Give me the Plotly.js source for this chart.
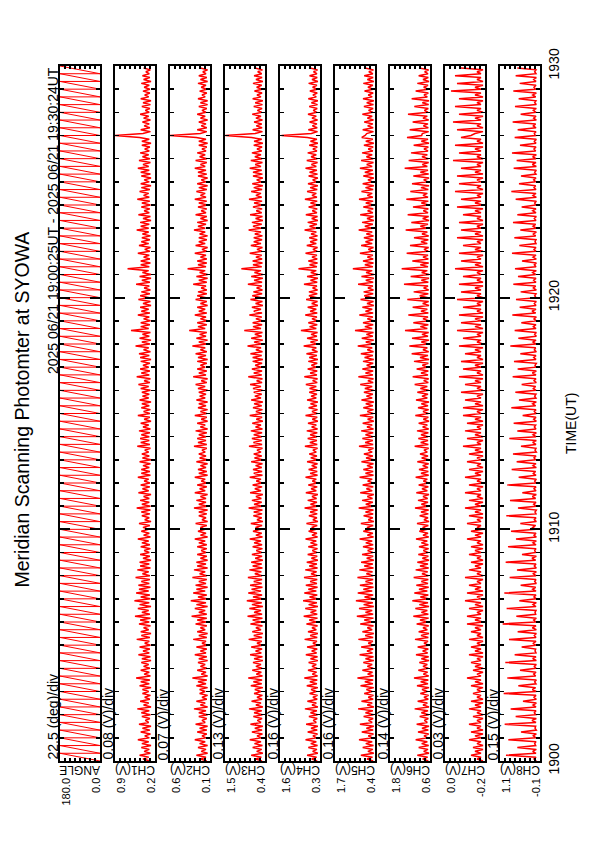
<!DOCTYPE html>
<html><head><meta charset="utf-8">
<script src="https://cdn.plot.ly/plotly-3.0.1.min.js"></script>
<style>html,body{margin:0;padding:0;background:#fff;}#chart{width:595px;height:842px;}</style>
</head><body><div id="chart"></div>
<script>
const chartTitle = "Meridian Scanning Photomter at SYOWA";
const periodLabel = "2025 06/21 19:00:25UT - 2025 06/21 19:30:24UT";
const timeAxisTitle = "TIME(UT)";
const channelNames = ["ANGLE","CH1(V)","CH2(V)","CH3(V)","CH4(V)","CH5(V)","CH6(V)","CH7(V)","CH8(V)"];
const rangeTop = [180.0, 0.9, 0.6, 1.5, 1.6, 1.7, 1.8, 0.0, 1.1];
const rangeBottom = [0.0, 0.2, 0.1, 0.4, 0.3, 0.4, 0.6, -0.2, -0.1];
const perDivLabels = ["22.5 (deg)/div","0.08 (V)/div","0.07 (V)/div","0.13 (V)/div","0.16 (V)/div","0.16 (V)/div","0.14 (V)/div","0.03 (V)/div","0.15 (V)/div"];
// time axis in seconds after 19:00:00 UT
const timeTickVals = [0, 600, 1200, 1800];
const timeTickText = ["1900","1910","1920","1930"];
const channelSampleSec = 5;

// scan angle: ramp 0 -> 180 deg, then fly back (turning points)
const angleTimeSec = [0,
20,20,40,40,60,60,80,80,100,100,120,120,140,140,160,160,180,180,200,200,
220,220,240,240,260,260,280,280,300,300,320,320,340,340,360,360,380,380,400,400,
420,420,440,440,460,460,480,480,500,500,520,520,540,540,560,560,580,580,600,600,
620,620,640,640,660,660,680,680,700,700,720,720,740,740,760,760,780,780,800,800,
820,820,840,840,860,860,880,880,900,900,920,920,940,940,960,960,980,980,1000,1000,
1020,1020,1040,1040,1060,1060,1080,1080,1100,1100,1120,1120,1140,1140,1160,1160,1180,1180,1200,1200,
1220,1220,1240,1240,1260,1260,1280,1280,1300,1300,1320,1320,1340,1340,1360,1360,1380,1380,1400,1400,
1420,1420,1440,1440,1460,1460,1480,1480,1500,1500,1520,1520,1540,1540,1560,1560,1580,1580,1600,1600,
1620,1620,1640,1640,1660,1660,1680,1680,1700,1700,1720,1720,1740,1740,1760,1760,1780,1780,
1800];
const angleDeg = [
0,180,0,180,0,180,0,180,0,180,0,180,0,180,0,180,0,180,0,180,
0,180,0,180,0,180,0,180,0,180,0,180,0,180,0,180,0,180,0,180,
0,180,0,180,0,180,0,180,0,180,0,180,0,180,0,180,0,180,0,180,
0,180,0,180,0,180,0,180,0,180,0,180,0,180,0,180,0,180,0,180,
0,180,0,180,0,180,0,180,0,180,0,180,0,180,0,180,0,180,0,180,
0,180,0,180,0,180,0,180,0,180,0,180,0,180,0,180,0,180,0,180,
0,180,0,180,0,180,0,180,0,180,0,180,0,180,0,180,0,180,0,180,
0,180,0,180,0,180,0,180,0,180,0,180,0,180,0,180,0,180,0,180,
0,180,0,180,0,180,0,180,0,180,0,180,0,180,0,180,0,180,0,180];

const ch1 = [
0.29,0.41,0.31,0.47,0.28,0.39,0.30,0.44,0.27,0.43,0.31,0.50,
0.30,0.38,0.28,0.45,0.29,0.42,0.27,0.48,0.31,0.37,0.29,0.43,
0.28,0.44,0.30,0.51,0.27,0.40,0.31,0.46,0.29,0.38,0.28,0.42,
0.31,0.42,0.27,0.47,0.30,0.45,0.29,0.53,0.28,0.39,0.30,0.45,
0.29,0.40,0.31,0.44,0.27,0.43,0.28,0.49,0.30,0.41,0.29,0.47,
0.28,0.38,0.30,0.52,0.29,0.44,0.27,0.45,0.31,0.40,0.28,0.48,
0.30,0.46,0.28,0.55,0.29,0.43,0.31,0.50,0.27,0.47,0.30,0.56,
0.28,0.45,0.29,0.53,0.31,0.48,0.28,0.49,0.30,0.44,0.29,0.54,
0.29,0.42,0.31,0.51,0.28,0.46,0.30,0.47,0.27,0.41,0.29,0.46,
0.30,0.39,0.28,0.45,0.29,0.43,0.31,0.50,0.28,0.40,0.30,0.44,
0.31,0.41,0.29,0.48,0.27,0.38,0.30,0.43,0.29,0.44,0.28,0.52,
0.28,0.43,0.30,0.46,0.30,0.40,0.27,0.49,0.31,0.42,0.29,0.45,
0.29,0.39,0.31,0.50,0.28,0.44,0.29,0.44,0.30,0.41,0.28,0.47,
0.27,0.42,0.30,0.43,0.31,0.38,0.28,0.51,0.29,0.45,0.30,0.46,
0.30,0.44,0.29,0.48,0.28,0.41,0.31,0.45,0.27,0.39,0.29,0.50,
0.29,0.40,0.28,0.44,0.30,0.43,0.27,0.47,0.31,0.42,0.30,0.43,
0.28,0.45,0.31,0.49,0.29,0.39,0.28,0.52,0.30,0.44,0.29,0.46,
0.31,0.41,0.29,0.45,0.27,0.46,0.30,0.48,0.28,0.40,0.31,0.54,
0.29,0.43,0.27,0.47,0.30,0.42,0.28,0.62,0.31,0.45,0.29,0.45,
0.28,0.40,0.30,0.50,0.29,0.44,0.31,0.46,0.27,0.41,0.28,0.49,
0.30,0.46,0.29,0.44,0.28,0.39,0.30,0.53,0.29,0.43,0.27,0.47,
0.27,0.42,0.31,0.68,0.30,0.45,0.28,0.45,0.29,0.40,0.30,0.50,
0.29,0.38,0.28,0.48,0.31,0.44,0.29,0.43,0.28,0.42,0.31,0.52,
0.31,0.45,0.30,0.46,0.27,0.41,0.28,0.49,0.30,0.39,0.29,0.44,
0.28,0.43,0.29,0.51,0.30,0.40,0.31,0.47,0.29,0.44,0.27,0.45,
0.30,0.39,0.27,0.44,0.28,0.45,0.30,0.50,0.31,0.41,0.28,0.48,
0.29,0.42,0.31,0.46,0.30,0.38,0.29,0.43,0.27,0.43,0.30,0.47,
0.90,0.41,0.28,0.45,0.29,0.39,0.30,0.42,0.28,0.40,0.31,0.46,
0.30,0.37,0.29,0.43,0.28,0.41,0.27,0.45,0.31,0.38,0.29,0.41,
0.29,0.39,0.30,0.44,0.27,0.40,0.29,0.42,0.30,0.36,0.28,0.40];

const ch2 = [
0.14,0.22,0.15,0.27,0.13,0.21,0.15,0.25,0.13,0.23,0.16,0.29,
0.15,0.20,0.14,0.26,0.14,0.23,0.13,0.28,0.16,0.20,0.14,0.24,
0.13,0.24,0.15,0.30,0.13,0.22,0.16,0.27,0.14,0.20,0.13,0.23,
0.16,0.23,0.13,0.27,0.15,0.25,0.14,0.32,0.13,0.21,0.15,0.26,
0.14,0.22,0.16,0.25,0.13,0.24,0.14,0.29,0.15,0.22,0.14,0.27,
0.13,0.20,0.15,0.31,0.14,0.24,0.13,0.26,0.16,0.22,0.14,0.28,
0.15,0.26,0.14,0.33,0.14,0.24,0.16,0.29,0.13,0.27,0.15,0.34,
0.14,0.25,0.14,0.31,0.16,0.27,0.13,0.28,0.15,0.24,0.14,0.32,
0.14,0.23,0.16,0.30,0.13,0.26,0.15,0.27,0.13,0.22,0.14,0.26,
0.15,0.21,0.14,0.26,0.14,0.24,0.16,0.29,0.13,0.22,0.15,0.25,
0.16,0.22,0.14,0.28,0.13,0.20,0.15,0.24,0.14,0.24,0.13,0.30,
0.13,0.24,0.15,0.27,0.15,0.22,0.13,0.29,0.16,0.23,0.14,0.26,
0.14,0.21,0.16,0.29,0.13,0.24,0.14,0.25,0.15,0.22,0.13,0.27,
0.13,0.23,0.15,0.24,0.16,0.20,0.14,0.30,0.14,0.25,0.15,0.26,
0.15,0.24,0.14,0.28,0.13,0.22,0.16,0.26,0.13,0.21,0.14,0.29,
0.14,0.22,0.13,0.25,0.15,0.24,0.13,0.27,0.16,0.23,0.15,0.24,
0.13,0.25,0.16,0.28,0.14,0.21,0.13,0.31,0.15,0.24,0.14,0.26,
0.16,0.22,0.14,0.26,0.13,0.25,0.15,0.28,0.14,0.22,0.16,0.32,
0.14,0.24,0.13,0.27,0.15,0.23,0.14,0.36,0.16,0.25,0.14,0.26,
0.13,0.22,0.15,0.29,0.14,0.24,0.16,0.26,0.13,0.22,0.14,0.28,
0.15,0.26,0.14,0.25,0.14,0.21,0.15,0.31,0.14,0.24,0.13,0.27,
0.13,0.23,0.16,0.38,0.15,0.25,0.14,0.26,0.14,0.22,0.15,0.29,
0.14,0.20,0.13,0.28,0.16,0.24,0.14,0.24,0.13,0.23,0.16,0.30,
0.16,0.25,0.15,0.26,0.13,0.22,0.14,0.28,0.15,0.21,0.14,0.25,
0.13,0.24,0.14,0.29,0.15,0.22,0.16,0.27,0.14,0.24,0.13,0.26,
0.15,0.21,0.13,0.25,0.14,0.25,0.15,0.29,0.16,0.22,0.14,0.28,
0.14,0.23,0.16,0.26,0.15,0.20,0.14,0.24,0.13,0.24,0.15,0.27,
0.60,0.22,0.14,0.26,0.14,0.21,0.15,0.24,0.13,0.22,0.16,0.26,
0.15,0.20,0.14,0.24,0.13,0.22,0.13,0.25,0.16,0.20,0.14,0.23,
0.14,0.21,0.15,0.25,0.13,0.22,0.14,0.24,0.15,0.19,0.13,0.22];

const ch3 = [
0.48,0.66,0.50,0.78,0.46,0.63,0.49,0.74,0.47,0.69,0.51,0.82,
0.50,0.62,0.47,0.76,0.48,0.68,0.46,0.80,0.51,0.61,0.48,0.72,
0.47,0.70,0.49,0.84,0.46,0.65,0.51,0.77,0.48,0.62,0.47,0.70,
0.51,0.68,0.46,0.79,0.49,0.72,0.48,0.86,0.47,0.64,0.50,0.75,
0.48,0.65,0.51,0.73,0.46,0.70,0.47,0.81,0.50,0.66,0.48,0.78,
0.47,0.62,0.49,0.85,0.48,0.71,0.46,0.75,0.51,0.65,0.47,0.80,
0.50,0.74,0.47,0.88,0.48,0.70,0.51,0.83,0.46,0.76,0.49,0.90,
0.47,0.73,0.48,0.86,0.51,0.77,0.47,0.81,0.49,0.71,0.48,0.87,
0.48,0.68,0.50,0.83,0.47,0.74,0.49,0.78,0.46,0.67,0.48,0.76,
0.49,0.64,0.47,0.74,0.48,0.70,0.51,0.82,0.47,0.65,0.49,0.73,
0.51,0.66,0.48,0.79,0.46,0.62,0.49,0.72,0.48,0.71,0.47,0.85,
0.47,0.70,0.49,0.76,0.50,0.65,0.46,0.81,0.51,0.68,0.48,0.74,
0.48,0.64,0.51,0.82,0.47,0.71,0.48,0.73,0.49,0.66,0.47,0.78,
0.46,0.69,0.49,0.71,0.51,0.62,0.47,0.84,0.48,0.72,0.49,0.76,
0.49,0.71,0.48,0.79,0.47,0.66,0.51,0.75,0.46,0.64,0.48,0.82,
0.48,0.65,0.47,0.73,0.49,0.70,0.46,0.78,0.51,0.68,0.49,0.71,
0.47,0.73,0.51,0.81,0.48,0.63,0.47,0.86,0.49,0.71,0.48,0.76,
0.51,0.67,0.48,0.74,0.46,0.74,0.49,0.80,0.47,0.65,0.51,0.88,
0.48,0.70,0.46,0.78,0.49,0.68,0.47,0.97,0.51,0.73,0.48,0.74,
0.47,0.65,0.49,0.83,0.48,0.71,0.51,0.76,0.46,0.66,0.47,0.80,
0.49,0.75,0.48,0.72,0.47,0.63,0.49,0.87,0.48,0.70,0.46,0.78,
0.46,0.69,0.51,1.05,0.49,0.73,0.47,0.74,0.48,0.65,0.49,0.82,
0.48,0.62,0.47,0.79,0.51,0.71,0.48,0.71,0.47,0.68,0.51,0.85,
0.51,0.73,0.49,0.76,0.46,0.66,0.47,0.81,0.49,0.64,0.48,0.73,
0.47,0.70,0.48,0.84,0.49,0.65,0.51,0.78,0.48,0.71,0.46,0.75,
0.49,0.63,0.46,0.73,0.47,0.73,0.49,0.82,0.51,0.67,0.47,0.79,
0.48,0.68,0.51,0.76,0.49,0.62,0.48,0.71,0.46,0.70,0.49,0.77,
1.49,0.67,0.47,0.74,0.48,0.64,0.49,0.70,0.47,0.65,0.51,0.75,
0.49,0.61,0.48,0.71,0.47,0.67,0.46,0.74,0.51,0.62,0.48,0.69,
0.48,0.63,0.49,0.73,0.46,0.65,0.48,0.70,0.49,0.60,0.47,0.68];

const ch4 = [
0.39,0.57,0.41,0.72,0.37,0.54,0.40,0.68,0.38,0.60,0.42,0.77,
0.41,0.53,0.38,0.70,0.39,0.59,0.37,0.75,0.42,0.52,0.39,0.66,
0.38,0.61,0.40,0.79,0.37,0.56,0.42,0.71,0.39,0.53,0.38,0.64,
0.42,0.59,0.37,0.73,0.40,0.63,0.39,0.81,0.38,0.55,0.41,0.69,
0.39,0.56,0.42,0.67,0.37,0.61,0.38,0.76,0.41,0.57,0.39,0.72,
0.38,0.53,0.40,0.80,0.39,0.62,0.37,0.69,0.42,0.56,0.38,0.74,
0.41,0.65,0.38,0.83,0.39,0.61,0.42,0.78,0.37,0.67,0.40,0.85,
0.38,0.64,0.39,0.81,0.42,0.68,0.38,0.76,0.40,0.62,0.39,0.82,
0.39,0.59,0.41,0.78,0.38,0.65,0.40,0.73,0.37,0.58,0.39,0.70,
0.40,0.55,0.38,0.68,0.39,0.61,0.42,0.77,0.38,0.56,0.40,0.67,
0.42,0.57,0.39,0.74,0.37,0.53,0.40,0.66,0.39,0.62,0.38,0.80,
0.38,0.61,0.40,0.70,0.41,0.56,0.37,0.76,0.42,0.59,0.39,0.68,
0.39,0.55,0.42,0.77,0.38,0.62,0.39,0.67,0.40,0.57,0.38,0.72,
0.37,0.60,0.40,0.65,0.42,0.53,0.38,0.79,0.39,0.63,0.40,0.70,
0.40,0.62,0.39,0.73,0.38,0.57,0.42,0.69,0.37,0.55,0.39,0.77,
0.39,0.56,0.38,0.67,0.40,0.61,0.37,0.72,0.42,0.59,0.40,0.65,
0.38,0.64,0.42,0.76,0.39,0.54,0.38,0.81,0.40,0.62,0.39,0.70,
0.42,0.58,0.39,0.68,0.37,0.65,0.40,0.74,0.38,0.56,0.42,0.83,
0.39,0.61,0.37,0.72,0.40,0.59,0.38,0.92,0.42,0.64,0.39,0.68,
0.38,0.56,0.40,0.78,0.39,0.62,0.42,0.70,0.37,0.57,0.38,0.75,
0.40,0.66,0.39,0.66,0.38,0.54,0.40,0.82,0.39,0.61,0.37,0.72,
0.37,0.60,0.42,1.00,0.40,0.64,0.38,0.68,0.39,0.56,0.40,0.77,
0.39,0.53,0.38,0.73,0.42,0.62,0.39,0.65,0.38,0.59,0.42,0.80,
0.42,0.64,0.40,0.70,0.37,0.57,0.38,0.76,0.40,0.55,0.39,0.67,
0.38,0.61,0.39,0.79,0.40,0.56,0.42,0.72,0.39,0.62,0.37,0.69,
0.40,0.54,0.37,0.67,0.38,0.64,0.40,0.77,0.42,0.58,0.38,0.73,
0.39,0.59,0.42,0.70,0.40,0.53,0.39,0.65,0.37,0.61,0.40,0.71,
1.55,0.58,0.38,0.68,0.39,0.55,0.40,0.64,0.38,0.56,0.42,0.69,
0.40,0.52,0.39,0.65,0.38,0.58,0.37,0.68,0.42,0.53,0.39,0.63,
0.39,0.54,0.40,0.67,0.37,0.56,0.39,0.64,0.40,0.51,0.38,0.62];

const ch5 = [
0.46,0.66,0.48,0.86,0.44,0.63,0.47,0.80,0.45,0.70,0.49,0.92,
0.48,0.62,0.45,0.83,0.46,0.68,0.44,0.89,0.49,0.61,0.46,0.77,
0.45,0.71,0.47,0.95,0.44,0.65,0.49,0.84,0.46,0.62,0.45,0.75,
0.49,0.68,0.44,0.87,0.47,0.73,0.46,0.97,0.45,0.64,0.48,0.81,
0.46,0.65,0.49,0.78,0.44,0.71,0.45,0.90,0.48,0.66,0.46,0.85,
0.45,0.62,0.47,0.94,0.46,0.72,0.44,0.81,0.49,0.65,0.45,0.88,
0.48,0.75,0.45,0.99,0.46,0.71,0.49,0.92,0.44,0.77,0.47,1.02,
0.45,0.74,0.46,0.96,0.49,0.78,0.45,0.89,0.47,0.71,0.46,0.97,
0.46,0.68,0.48,0.91,0.45,0.75,0.47,0.85,0.44,0.67,0.46,0.82,
0.47,0.64,0.45,0.79,0.46,0.70,0.49,0.90,0.45,0.65,0.47,0.78,
0.49,0.66,0.46,0.86,0.44,0.62,0.47,0.77,0.46,0.71,0.45,0.93,
0.45,0.70,0.47,0.82,0.48,0.65,0.44,0.88,0.49,0.68,0.46,0.80,
0.46,0.64,0.49,0.90,0.45,0.71,0.46,0.78,0.47,0.66,0.45,0.84,
0.44,0.69,0.47,0.76,0.49,0.62,0.45,0.92,0.46,0.72,0.47,0.81,
0.47,0.71,0.46,0.85,0.45,0.66,0.49,0.80,0.44,0.64,0.46,0.89,
0.46,0.65,0.45,0.78,0.47,0.70,0.44,0.84,0.49,0.68,0.47,0.76,
0.45,0.73,0.49,0.88,0.46,0.63,0.45,0.94,0.47,0.71,0.46,0.81,
0.49,0.67,0.46,0.79,0.44,0.74,0.47,0.86,0.45,0.65,0.49,0.96,
0.46,0.70,0.44,0.83,0.47,0.68,0.45,1.05,0.49,0.73,0.46,0.79,
0.45,0.65,0.47,0.91,0.46,0.71,0.49,0.81,0.44,0.66,0.45,0.87,
0.47,0.75,0.46,0.77,0.45,0.63,0.47,0.95,0.46,0.70,0.44,0.84,
0.44,0.69,0.49,1.12,0.47,0.73,0.45,0.79,0.46,0.65,0.47,0.89,
0.46,0.62,0.45,0.85,0.49,0.71,0.46,0.76,0.45,0.68,0.49,0.93,
0.49,0.73,0.47,0.82,0.44,0.66,0.45,0.88,0.47,0.64,0.46,0.78,
0.45,0.70,0.46,0.92,0.47,0.65,0.49,0.84,0.46,0.71,0.44,0.80,
0.47,0.63,0.44,0.78,0.45,0.73,0.47,0.89,0.49,0.67,0.45,0.85,
0.46,0.68,0.49,0.82,0.47,0.62,0.46,0.76,0.44,0.70,0.47,0.83,
0.72,0.67,0.45,0.80,0.46,0.64,0.47,0.75,0.45,0.65,0.49,0.81,
0.47,0.61,0.46,0.76,0.45,0.67,0.44,0.79,0.49,0.62,0.46,0.74,
0.46,0.63,0.47,0.78,0.44,0.65,0.46,0.75,0.47,0.60,0.45,0.73];

const ch6 = [
0.65,0.82,0.67,0.98,0.63,0.79,0.66,0.94,0.64,0.85,0.68,1.03,
0.67,0.78,0.64,0.96,0.65,0.84,0.63,1.00,0.68,0.77,0.65,0.91,
0.64,0.86,0.66,1.06,0.63,0.81,0.68,0.97,0.65,0.78,0.64,0.89,
0.68,0.84,0.63,0.99,0.66,0.88,0.65,1.08,0.64,0.80,0.67,0.95,
0.65,0.81,0.68,0.92,0.63,0.86,0.64,1.02,0.67,0.82,0.65,0.97,
0.64,0.78,0.66,1.05,0.65,0.87,0.63,0.94,0.68,0.81,0.64,1.00,
0.67,0.90,0.64,1.10,0.65,0.86,0.68,1.04,0.63,0.92,0.66,1.13,
0.64,0.89,0.65,1.07,0.68,0.93,0.64,1.01,0.66,0.86,0.65,1.09,
0.65,0.84,0.67,1.03,0.64,0.90,0.66,0.98,0.63,0.83,0.65,0.95,
0.66,0.80,0.64,0.93,0.65,0.86,0.68,1.02,0.64,0.81,0.66,0.92,
0.68,0.82,0.65,0.99,0.63,0.78,0.66,0.91,0.65,0.87,0.64,1.05,
0.64,0.86,0.66,0.96,0.67,0.81,0.63,1.01,0.68,0.84,0.65,0.94,
0.65,0.80,0.68,1.03,0.64,0.87,0.65,0.93,0.66,0.82,0.64,0.98,
0.63,0.85,0.66,0.90,0.68,0.78,0.64,1.06,0.65,0.88,0.66,0.95,
0.66,0.87,0.65,0.99,0.64,0.82,0.68,0.94,0.63,0.80,0.65,1.04,
0.65,0.81,0.64,0.96,0.66,0.86,0.63,1.02,0.68,0.84,0.66,0.98,
0.64,0.89,0.68,1.06,0.65,0.79,0.64,1.12,0.66,0.87,0.65,1.00,
0.68,0.83,0.65,1.08,0.63,0.90,0.66,1.15,0.64,0.81,0.68,1.22,
0.65,0.86,0.63,1.14,0.66,0.84,0.64,1.35,0.68,0.89,0.65,1.10,
0.64,0.81,0.66,1.25,0.65,0.87,0.68,1.12,0.63,0.82,0.64,1.28,
0.66,0.91,0.65,1.09,0.64,0.79,0.66,1.38,0.65,0.86,0.63,1.18,
0.63,0.85,0.68,1.45,0.66,0.89,0.64,1.13,0.65,0.81,0.66,1.30,
0.65,0.78,0.64,1.20,0.68,0.87,0.65,1.08,0.64,0.84,0.68,1.33,
0.68,0.89,0.66,1.16,0.63,0.82,0.64,1.27,0.66,0.80,0.65,1.11,
0.64,0.86,0.65,1.31,0.66,0.81,0.68,1.19,0.65,0.87,0.63,1.14,
0.66,0.79,0.63,1.10,0.64,0.89,0.66,1.36,0.68,0.83,0.64,1.24,
0.65,0.84,0.68,1.17,0.66,0.78,0.65,1.09,0.63,0.86,0.66,1.29,
0.85,0.83,0.64,1.21,0.65,0.80,0.66,1.12,0.64,0.81,0.68,1.26,
0.66,0.77,0.65,1.07,0.64,0.83,0.63,1.15,0.68,0.78,0.65,1.03,
0.65,0.79,0.66,0.98,0.63,0.81,0.65,0.94,0.66,0.76,0.64,0.92];

const ch7 = [
-0.19,-0.16,-0.18,-0.13,-0.18,-0.15,-0.19,-0.14,-0.19,-0.16,-0.18,-0.12,
-0.18,-0.15,-0.19,-0.13,-0.19,-0.16,-0.18,-0.12,-0.18,-0.16,-0.19,-0.14,
-0.19,-0.16,-0.18,-0.12,-0.18,-0.15,-0.19,-0.13,-0.19,-0.16,-0.18,-0.14,
-0.18,-0.16,-0.19,-0.13,-0.19,-0.15,-0.18,-0.11,-0.18,-0.16,-0.19,-0.14,
-0.19,-0.15,-0.18,-0.13,-0.18,-0.16,-0.19,-0.12,-0.19,-0.15,-0.18,-0.13,
-0.18,-0.16,-0.19,-0.12,-0.19,-0.16,-0.18,-0.13,-0.18,-0.15,-0.19,-0.11,
-0.19,-0.15,-0.18,-0.11,-0.18,-0.16,-0.19,-0.12,-0.19,-0.15,-0.18,-0.10,
-0.18,-0.16,-0.19,-0.11,-0.19,-0.15,-0.18,-0.12,-0.18,-0.16,-0.19,-0.10,
-0.19,-0.16,-0.18,-0.12,-0.18,-0.15,-0.19,-0.13,-0.19,-0.16,-0.18,-0.12,
-0.18,-0.15,-0.19,-0.13,-0.19,-0.16,-0.18,-0.11,-0.18,-0.15,-0.19,-0.13,
-0.19,-0.16,-0.18,-0.11,-0.18,-0.16,-0.19,-0.12,-0.19,-0.15,-0.18,-0.10,
-0.18,-0.15,-0.19,-0.12,-0.19,-0.16,-0.18,-0.10,-0.18,-0.16,-0.19,-0.12,
-0.19,-0.16,-0.18,-0.10,-0.18,-0.15,-0.19,-0.12,-0.19,-0.16,-0.18,-0.11,
-0.18,-0.16,-0.19,-0.12,-0.19,-0.15,-0.18,-0.09,-0.18,-0.16,-0.19,-0.11,
-0.19,-0.15,-0.18,-0.10,-0.18,-0.16,-0.19,-0.11,-0.19,-0.15,-0.18,-0.09,
-0.18,-0.16,-0.19,-0.09,-0.19,-0.15,-0.18,-0.10,-0.18,-0.16,-0.19,-0.08,
-0.19,-0.16,-0.18,-0.10,-0.18,-0.15,-0.19,-0.07,-0.19,-0.16,-0.18,-0.09,
-0.18,-0.15,-0.19,-0.08,-0.19,-0.16,-0.18,-0.10,-0.18,-0.15,-0.19,-0.07,
-0.19,-0.16,-0.18,-0.09,-0.18,-0.16,-0.19,-0.06,-0.19,-0.15,-0.18,-0.08,
-0.18,-0.15,-0.19,-0.07,-0.19,-0.16,-0.18,-0.09,-0.18,-0.16,-0.19,-0.06,
-0.19,-0.16,-0.18,-0.08,-0.18,-0.15,-0.19,-0.07,-0.19,-0.16,-0.18,-0.09,
-0.18,-0.16,-0.19,-0.05,-0.19,-0.15,-0.18,-0.08,-0.18,-0.16,-0.19,-0.07,
-0.19,-0.15,-0.18,-0.09,-0.18,-0.16,-0.19,-0.06,-0.19,-0.15,-0.18,-0.08,
-0.18,-0.16,-0.19,-0.07,-0.19,-0.16,-0.18,-0.09,-0.18,-0.15,-0.19,-0.06,
-0.19,-0.15,-0.18,-0.08,-0.18,-0.16,-0.19,-0.05,-0.19,-0.16,-0.18,-0.07,
-0.18,-0.16,-0.19,-0.06,-0.19,-0.15,-0.18,-0.08,-0.18,-0.16,-0.19,-0.04,
-0.19,-0.16,-0.18,-0.07,-0.18,-0.15,-0.19,-0.05,-0.19,-0.16,-0.18,-0.08,
-0.13,-0.15,-0.19,-0.06,-0.19,-0.16,-0.18,-0.04,-0.18,-0.15,-0.19,-0.07,
-0.19,-0.16,-0.18,-0.05,-0.18,-0.16,-0.19,-0.07,-0.19,-0.15,-0.18,-0.03,
-0.18,-0.15,-0.19,-0.06,-0.19,-0.16,-0.18,-0.05,-0.18,-0.16,-0.19,-0.08];

const ch8 = [
0.01,0.08,0.02,0.92,0.02,0.12,0.01,0.58,0.03,0.06,0.02,0.85,
0.02,0.10,0.01,0.47,0.01,0.05,0.03,0.96,0.02,0.14,0.01,0.63,
0.03,0.07,0.02,0.78,0.02,0.11,0.01,0.41,0.01,0.08,0.02,0.99,
0.01,0.13,0.03,0.55,0.02,0.06,0.01,0.88,0.03,0.09,0.02,0.50,
0.02,0.07,0.01,0.94,0.01,0.12,0.02,0.66,0.02,0.05,0.03,0.45,
0.03,0.10,0.02,0.83,0.02,0.07,0.01,0.57,0.01,0.13,0.02,1.02,
0.02,0.09,0.01,0.61,0.03,0.05,0.02,0.90,0.02,0.11,0.01,0.52,
0.01,0.08,0.02,0.97,0.02,0.12,0.03,0.48,0.01,0.06,0.02,0.81,
0.02,0.10,0.01,0.59,0.01,0.07,0.02,0.93,0.03,0.14,0.01,0.44,
0.03,0.06,0.02,0.86,0.02,0.11,0.01,0.62,0.01,0.08,0.02,0.77,
0.02,0.12,0.03,0.49,0.01,0.07,0.02,0.91,0.02,0.05,0.01,0.56,
0.01,0.09,0.02,0.80,0.03,0.13,0.01,0.43,0.02,0.08,0.02,0.88,
0.02,0.06,0.01,0.54,0.02,0.10,0.03,0.75,0.01,0.11,0.02,0.60,
0.03,0.08,0.02,0.71,0.01,0.05,0.02,0.47,0.02,0.12,0.01,0.82,
0.02,0.11,0.01,0.58,0.02,0.07,0.03,0.69,0.01,0.09,0.02,0.42,
0.01,0.07,0.02,0.76,0.03,0.12,0.01,0.53,0.02,0.06,0.02,0.64,
0.02,0.10,0.03,0.45,0.01,0.08,0.02,0.72,0.02,0.13,0.01,0.57,
0.03,0.05,0.01,0.68,0.02,0.09,0.02,0.49,0.01,0.07,0.03,0.79,
0.02,0.11,0.02,0.55,0.01,0.06,0.01,0.66,0.02,0.10,0.02,0.46,
0.01,0.08,0.01,0.73,0.03,0.14,0.02,0.51,0.02,0.07,0.01,0.62,
0.02,0.06,0.02,0.48,0.01,0.10,0.03,0.70,0.02,0.09,0.02,0.56,
0.03,0.12,0.01,0.65,0.02,0.07,0.01,0.44,0.01,0.11,0.02,0.74,
0.02,0.08,0.02,0.52,0.02,0.05,0.02,0.67,0.03,0.10,0.01,0.49,
0.01,0.11,0.03,0.71,0.02,0.07,0.01,0.58,0.02,0.12,0.02,0.45,
0.02,0.06,0.01,0.63,0.01,0.11,0.02,0.76,0.02,0.08,0.03,0.53,
0.03,0.09,0.02,0.47,0.02,0.06,0.01,0.69,0.01,0.13,0.02,0.60,
0.02,0.12,0.01,0.74,0.03,0.08,0.02,0.50,0.02,0.07,0.01,0.66,
0.04,0.07,0.02,0.57,0.02,0.10,0.03,0.72,0.01,0.09,0.02,0.48,
0.02,0.10,0.01,0.65,0.01,0.06,0.02,0.54,0.03,0.12,0.01,0.70,
0.03,0.08,0.02,0.51,0.02,0.09,0.01,0.63,0.02,0.06,0.02,0.58];

const channelSeries = [ch1, ch2, ch3, ch4, ch5, ch6, ch7, ch8];

// ---- layout geometry (page pixels) ----
const W = 595, H = 842;
const FONT = "Liberation Sans, Arial, Helvetica, sans-serif";
const px = v => v / W;
const py = v => 1 - v / H;
const panelLeft = k => 60 + 55 * k;
const panelWidth = 40;
const timeBottomPx = 761, timeTopPx = 66;

const traces = [{
  type: "scatter", mode: "lines",
  x: angleDeg, y: angleTimeSec, xaxis: "x", yaxis: "y",
  line: {color: "#ff0000", width: 1, simplify: false}, hoverinfo: "skip"
}];
channelSeries.forEach((vals, i) => {
  const s = String(i + 2);
  traces.push({
    type: "scatter", mode: "lines",
    x: vals, y0: 0, dy: channelSampleSec,
    xaxis: "x" + s, yaxis: "y" + s,
    line: {color: "#ff0000", width: 1.5, simplify: false}, hoverinfo: "skip"
  });
});

const layout = {
  width: W, height: H,
  margin: {l: 0, r: 0, t: 0, b: 0},
  paper_bgcolor: "#fff", plot_bgcolor: "#fff",
  showlegend: false,
  font: {family: FONT, color: "#000"},
  annotations: []
};

const ann = (o) => layout.annotations.push(Object.assign({xref: "paper", yref: "paper", showarrow: false, borderpad: 0}, o));

for (let k = 0; k < channelNames.length; k++) {
  const s = k === 0 ? "" : String(k + 1);
  const L = panelLeft(k), R = L + panelWidth;
  layout["xaxis" + s] = {
    domain: [px(L), px(R)],
    range: [rangeTop[k], rangeBottom[k]],
    anchor: "y" + s,
    showline: true, linecolor: "#000", linewidth: 2, mirror: "allticks",
    ticks: "inside", ticklen: 3, tickwidth: 1.5, tickcolor: "#000",
    tickmode: "linear", tick0: rangeBottom[k], dtick: (rangeTop[k] - rangeBottom[k]) / 8,
    showticklabels: false, showgrid: false, zeroline: false, fixedrange: true
  };
  layout["yaxis" + s] = {
    domain: [py(timeBottomPx), py(timeTopPx)],
    range: [0, 1800],
    anchor: "x" + s, side: "right",
    showline: true, linecolor: "#000", linewidth: 2, mirror: "allticks",
    ticks: "inside", ticklen: 10, tickwidth: 2, tickcolor: "#000",
    tickmode: "array", tickvals: timeTickVals, ticktext: timeTickText,
    showticklabels: k === channelNames.length - 1, tickangle: -90,
    tickfont: {family: FONT, size: 14, color: "#000"},
    minor: {tickmode: "linear", tick0: 0, dtick: 60, ticks: "inside", ticklen: 4, tickwidth: 1.5, tickcolor: "#000"},
    showgrid: false, zeroline: false, fixedrange: true
  };
  ann({text: perDivLabels[k], x: px(L - 7.5), y: py(timeBottomPx), xanchor: "center", yanchor: "bottom", textangle: -90, font: {family: FONT, size: 14, color: "#000"}});
  ann({text: channelNames[k], x: px(L + panelWidth / 2), y: py(770), xanchor: "center", yanchor: "middle", textangle: 180, font: {family: FONT, size: 12, color: "#000"}});
  ann({text: rangeTop[k].toFixed(1), x: px(L + 5.5), y: py(777), xanchor: "center", yanchor: "top", textangle: -90, font: {family: FONT, size: 11, color: "#000"}});
  ann({text: rangeBottom[k].toFixed(1), x: px(R - 4.5), y: py(777), xanchor: "center", yanchor: "top", textangle: -90, font: {family: FONT, size: 11, color: "#000"}});
}

ann({text: chartTitle, x: px(21), y: py(409.5), xanchor: "center", yanchor: "middle", textangle: -90, font: {family: FONT, size: 19.5, color: "#000"}});
ann({text: periodLabel, x: px(52.5), y: py(timeTopPx), xanchor: "center", yanchor: "top", textangle: -90, font: {family: FONT, size: 14, color: "#000"}});
ann({text: timeAxisTitle, x: px(571), y: py(424), xanchor: "center", yanchor: "middle", textangle: -90, font: {family: FONT, size: 14, color: "#000"}});

Plotly.newPlot("chart", traces, layout, {staticPlot: true, displayModeBar: false});
</script>
</body></html>
